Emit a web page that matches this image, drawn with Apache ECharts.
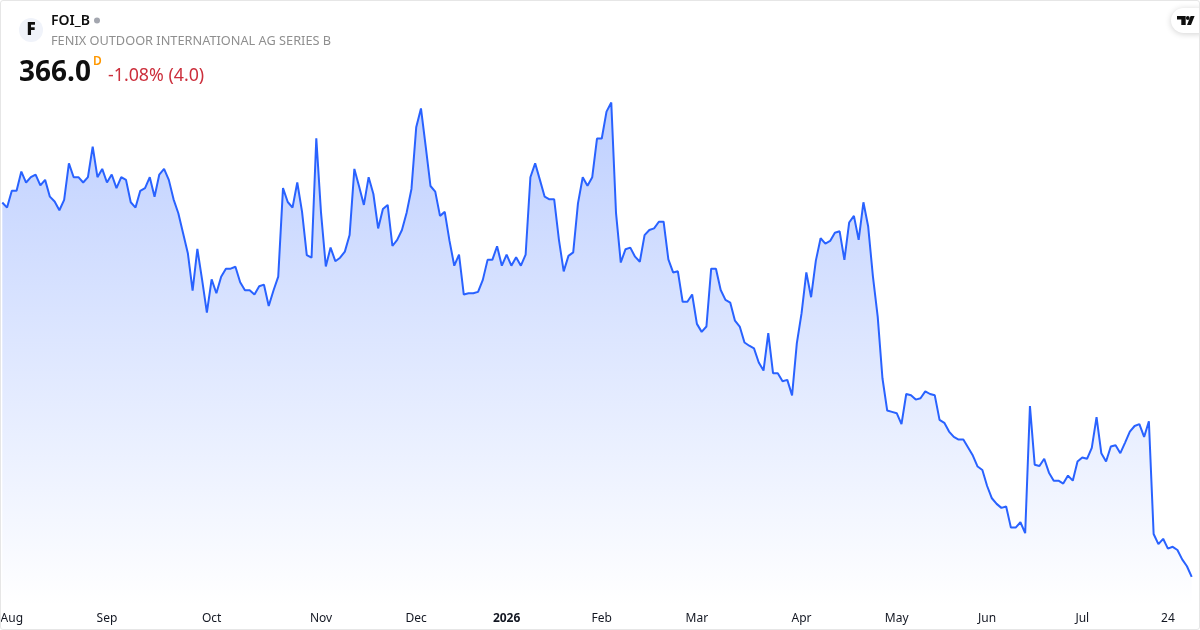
<!DOCTYPE html>
<html>
<head>
<meta charset="utf-8">
<style>
html,body{margin:0;padding:0;background:#fff}
#c{position:absolute;left:0;top:0;width:1200px;height:630px}
#b{position:absolute;left:0;top:0;width:1198px;height:628px;border:1px solid #e6e6e6;border-radius:3px;pointer-events:none}
</style>
<script src="https://cdn.jsdelivr.net/npm/echarts@6/dist/echarts.min.js"></script>
</head>
<body>
<div id="c"></div><div id="b"></div>
<script>
const prices = [
506.4,504.5,510.8,510.8,518,513.9,515.9,516.9,512.8,514.9,508.6,506.8,503.5,507.4,521.1,515.9,515.9,513.9,515.9,527.4,
515.9,519,513.9,516.9,511.8,515.9,514.9,506.5,504.5,510.8,511.8,515.9,508.6,516.9,519,514.9,507.6,502.4,494.9,487.4,
473.4,489,477.4,465.1,477.6,472.4,478.6,481.6,481.6,482.3,476.5,473.5,473.5,471.9,475,475.6,467.6,473.4,478.6,511.8,
506.6,504.5,513.9,503,486.7,485.7,530.5,502.4,482.4,489.5,484.4,485.7,488,494.2,519,512.4,505.5,515.9,509.6,496.7,
504,505.5,490.1,492.4,496.1,502.7,511.5,534.6,541.7,527.4,512.6,510.5,501.4,502.9,492,482.7,486.9,471.9,472.4,472.4,
472.9,477.4,484.9,484.9,490,482.7,486.9,482.7,485.9,482.7,486.9,515.9,521.1,514.9,508.6,507.6,507.6,492.4,480.6,486.4,
487.7,506.1,515.9,512.7,515.9,530.4,530.4,540.5,543.9,502.4,483.9,488.9,489.5,486.1,484.2,494.2,496.1,496.7,499.2,499.2,
485.1,480.2,480.6,469.2,469.2,471.9,460.9,457.9,459.9,481.6,481.6,473.6,469.9,468.9,462.1,459.9,453.9,452.7,451.7,446.4,
443.4,457.4,442.4,442.4,439.4,439.9,434.1,453.6,464.9,480.2,470.9,484.6,493,491,492,495.1,495.6,484.9,498.9,501.4,
492.4,506.5,497.4,478.6,463.6,440.5,428.4,427.9,427.4,423.3,434.6,434.1,432.5,433,435.6,434.6,434.1,424.9,423.8,420.5,
418.5,417.5,417.5,414.5,411.5,407.4,406.1,400.1,395.5,393.4,391.9,392.4,384.5,384.5,386.5,382.4,430.1,408.1,407.6,410.3,
405.1,402.1,402.1,401,404,402.1,409.3,410.8,410.3,414.4,425.9,412.4,409.3,414.9,415.4,412.4,416.4,420.5,422.6,423.3,
418.5,424.4,382.1,378.3,380.3,376.6,377.3,376.1,372.6,370,366
];
const tickIndex  = [2,22,44,67,87,106,126,146,168,188,207,227,245];
const tickLabels = ['Aug','Sep','Oct','Nov','Dec','2026','Feb','Mar','Apr','May','Jun','Jul','24'];
const symbol = 'FOI_B';
const company = 'FENIX OUTDOOR INTERNATIONAL AG SERIES B';
const lastPrice = '366.0';
const change = '-1.08% (4.0)';

const FONT = '"Noto Sans", sans-serif';
const categories = prices.map((_, i) => {
  const k = tickIndex.indexOf(i);
  return k >= 0 ? tickLabels[k] : '';
});

const chart = echarts.init(document.getElementById('c'), null, {renderer: 'canvas'});
chart.setOption({
  animation: false,
  backgroundColor: '#fff',
  grid: {left: 2.3, right: 8.3, top: 90, bottom: 24, outerBoundsMode: 'none'},
  xAxis: {
    type: 'category',
    data: categories,
    boundaryGap: false,
    axisLine: {show: false},
    axisTick: {show: false},
    splitLine: {show: false},
    axisLabel: {
      interval: (i, v) => v !== '',
      hideOverlap: false,
      margin: 7,
      color: '#131722',
      fontFamily: FONT,
      fontSize: 12,
      formatter: v => v === '2026' ? '{y|2026}' : v,
      rich: {y: {fontWeight: 'bold', fontFamily: FONT, fontSize: 12, color: '#131722'}}
    }
  },
  yAxis: {type: 'value', min: 355.1, max: 548.6, show: false},
  series: [{
    type: 'line',
    data: prices,
    symbol: 'none',
    smooth: false,
    lineStyle: {color: '#2962ff', width: 2},
    areaStyle: {
      opacity: 1,
      color: new echarts.graphic.LinearGradient(0, 0, 0, 1, [
        {offset: 0, color: 'rgba(41,98,255,0.30)'},
        {offset: 1, color: 'rgba(41,98,255,0)'}
      ])
    }
  }],
  graphic: [
    {type: 'circle', shape: {cx: 31, cy: 30, r: 12}, style: {fill: '#f0f3fa'}},
    {type: 'text', style: {x: 31, y: 30, text: 'F', font: '900 17px ' + FONT, fill: '#0f0f0f', align: 'center', verticalAlign: 'middle'}},
    {type: 'text', style: {x: 51, y: 21.5, text: symbol, font: '600 14px ' + FONT, fill: '#0f0f0f', verticalAlign: 'middle'}},
    {type: 'circle', shape: {cx: 97, cy: 20.5, r: 3}, style: {fill: '#a3a6af'}},
    {type: 'text', style: {x: 51, y: 41, text: company, font: '12.75px ' + FONT, fill: '#8f8f8f', verticalAlign: 'middle'}},
    {type: 'text', style: {x: 19, y: 73.5, text: lastPrice, font: '700 28px ' + FONT, fill: '#0f0f0f', verticalAlign: 'middle'}},
    {type: 'text', style: {x: 93, y: 62, text: 'D', font: '600 12px ' + FONT, fill: '#ff9800', verticalAlign: 'middle'}},
    {type: 'text', style: {x: 108, y: 76, text: change, font: '17.8px ' + FONT, fill: '#cc2f3c', verticalAlign: 'middle'}},
    {type: 'rect', shape: {x: 1171, y: 8, width: 40, height: 25, r: 12.5},
      style: {fill: '#fff', shadowBlur: 6, shadowColor: 'rgba(0,0,0,0.18)', shadowOffsetY: 1}},
    {type: 'polygon', shape: {points: [[1177,16],[1185.7,16],[1185.7,25],[1181.3,25],[1181.3,19.4],[1177,19.4]]}, style: {fill: '#0f0f0f'}, z: 11},
    {type: 'polygon', shape: {points: [[1187,25],[1191,25],[1194.6,16],[1190.6,16]]}, style: {fill: '#0f0f0f'}, z: 11},
    {type: 'circle', shape: {cx: 1187.8, cy: 18, r: 1.9}, style: {fill: '#0f0f0f'}, z: 11}
  ]
});
</script>
</body>
</html>
